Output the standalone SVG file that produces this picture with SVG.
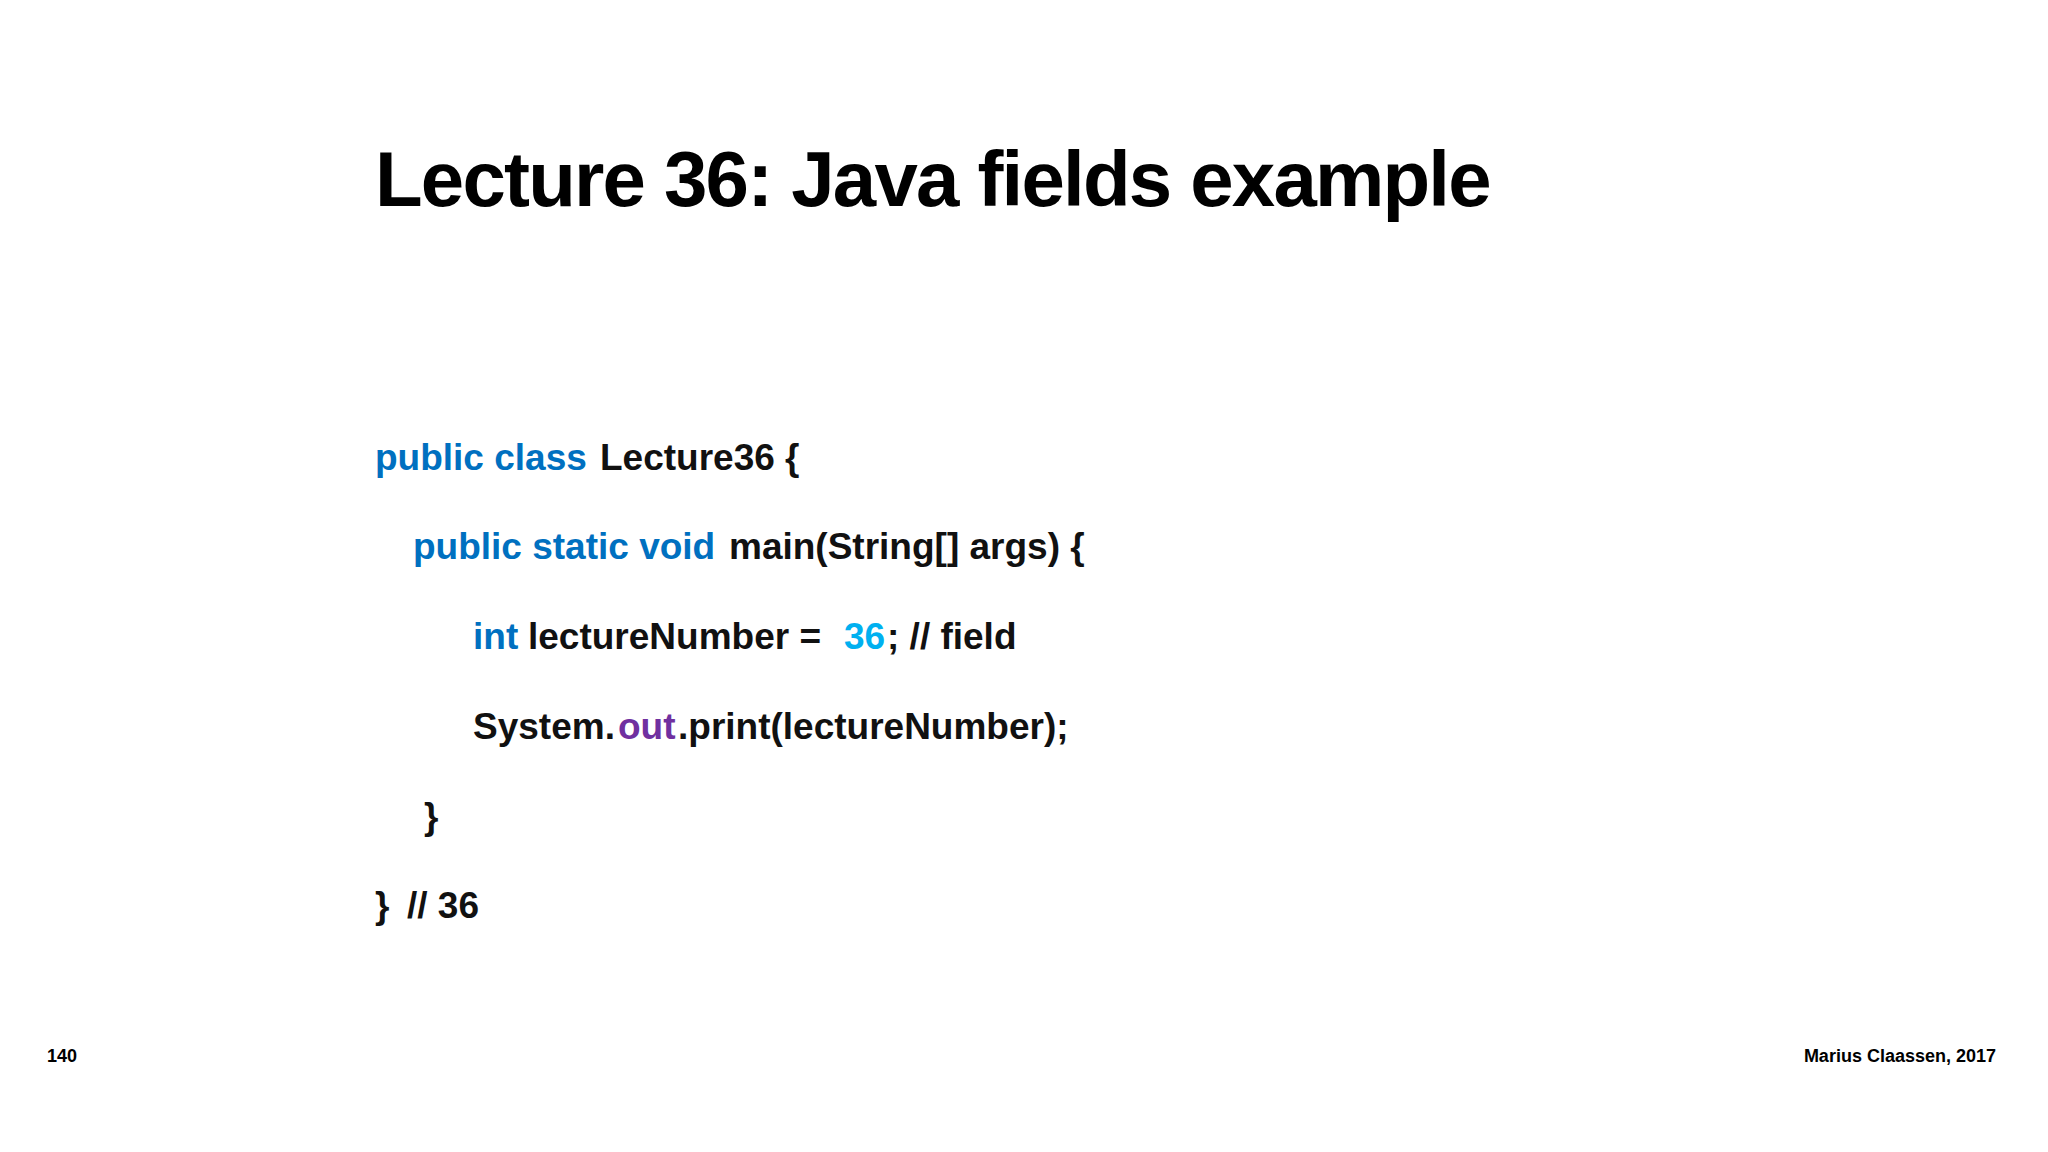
<svg xmlns="http://www.w3.org/2000/svg" width="2048" height="1152" viewBox="0 0 2048 1152">
<style>
.t{font-family:"Liberation Sans",Arial,sans-serif;font-weight:bold;fill:#000}
.c{font-family:"Liberation Sans",Arial,sans-serif;font-weight:bold;font-size:37px;fill:#111}
.k{fill:#0070c0}.n{fill:#00b0f0}.p{fill:#7030a0}
.f{font-family:"Liberation Sans",Arial,sans-serif;font-weight:bold;font-size:18px;fill:#000}
</style>
<rect width="2048" height="1152" fill="#fff"/>
<g id="title"><text class="t" x="375" y="206" font-size="78" letter-spacing="-1.8">Lecture 36: Java fields example</text></g>
<g id="code">
<text class="c" y="470"><tspan class="k" x="375">public class</tspan><tspan x="600">Lecture36 {</tspan></text>
<text class="c" y="559"><tspan class="k" x="413">public static void</tspan><tspan x="729">main(String[] args) {</tspan></text>
<text class="c" y="649"><tspan class="k" x="473">int</tspan><tspan x="528">lectureNumber =</tspan><tspan class="n" x="844">36</tspan><tspan x="887">; // field</tspan></text>
<text class="c" y="739"><tspan x="473">System.</tspan><tspan class="p" x="618">out</tspan><tspan x="678">.print(lectureNumber);</tspan></text>
<text class="c" y="829"><tspan x="424">}</tspan></text>
<text class="c" y="918"><tspan x="375">}</tspan><tspan x="407">// 36</tspan></text>
</g>
<g id="footer">
<text class="f" x="47" y="1062">140</text>
<text class="f" x="1996" y="1062" text-anchor="end">Marius Claassen,  2017</text>
</g>
</svg>
